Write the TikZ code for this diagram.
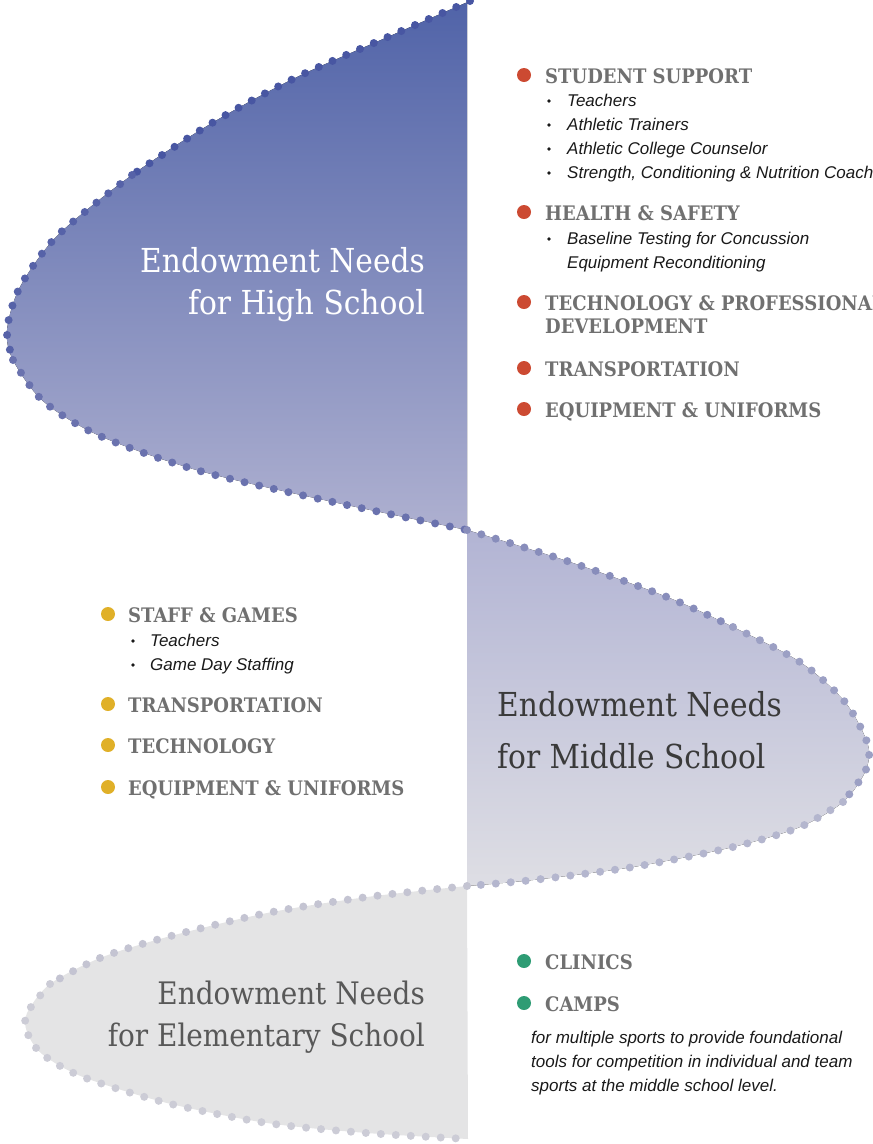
\documentclass[tikz,border=0pt]{standalone}
\usepackage{fontspec}
\newfontfamily\slabfont{DejaVu Serif Condensed}
\newfontfamily\itemfont{Liberation Sans}
\definecolor{hsTop}{RGB}{80,99,168}
\definecolor{hsBot}{RGB}{174,176,208}
\definecolor{msTop}{RGB}{178,180,212}
\definecolor{msBot}{RGB}{222,222,228}
\definecolor{esFill}{RGB}{228,228,229}
\definecolor{dotA}{RGB}{72,86,162}
\definecolor{dotB}{RGB}{86,98,168}
\definecolor{dotC}{RGB}{106,114,174}
\definecolor{dotD}{RGB}{136,141,187}
\definecolor{dotE}{RGB}{156,160,196}
\definecolor{dotF}{RGB}{180,182,206}
\definecolor{dotG}{RGB}{196,196,210}
\definecolor{dotH}{RGB}{204,204,214}
\definecolor{headgrey}{RGB}{112,112,112}
\definecolor{itemblack}{RGB}{25,25,25}
\definecolor{redbul}{RGB}{204,74,50}
\definecolor{yelbul}{RGB}{224,176,40}
\definecolor{grnbul}{RGB}{46,156,116}
\definecolor{midtitle}{RGB}{58,58,58}
\definecolor{eltitle}{RGB}{88,88,88}
\tikzset{
  beadline/.style={draw=#1, line width=8pt, line cap=round, dash pattern=on 0pt off 15pt},
  headtext/.style={anchor=base west, inner sep=0, text=headgrey, font=\slabfont\bfseries\fontsize{20}{24}\selectfont},
  itemtext/.style={anchor=base west, inner sep=0, text=itemblack, font=\itemfont\itshape\fontsize{17}{20}\selectfont},
  bigbul/.style={circle, inner sep=0, minimum size=14pt, fill=#1},
  smallbul/.style={circle, inner sep=0, minimum size=3.6pt, fill=itemblack},
  titletext/.style={inner sep=0, font=\slabfont\fontsize{33}{38}\selectfont},
}
\begin{document}
\begin{tikzpicture}[x=1pt,y=-1pt]
\useasboundingbox (0,0) rectangle (873,1144);
\clip (0,0) rectangle (873,1144);
% ---- fills
\fill[top color=hsTop, bottom color=hsBot]
  (467,0) -- plot[smooth] coordinates {(470,1) (390,36) (295,78) (212,123) (132,175) (58,235) (20,287) (7,330) (13,360) (43,401) (100,436) (200,471) (333,502) (467,530)} -- cycle;
\fill[top color=msTop, bottom color=msBot]
  plot[smooth] coordinates {(467,530) (567,561) (667,597) (733,627) (800,662) (845,702) (868,745) (865,772) (843,802) (800,827) (733,847) (633,867) (533,880) (467,886)} -- cycle;
\fill[esFill]
  plot[smooth] coordinates {(467,886) (367,897) (267,913) (167,937) (100,958) (50,984) (27,1013) (27,1032) (42,1054) (83,1077) (167,1103) (267,1123) (367,1133) (468,1139)} -- cycle;
% ---- beaded outlines
\draw[beadline=dotA] plot[smooth] coordinates {(470,1) (390,36) (295,78) (212,123) (132,175)};
\draw[beadline=dotB] plot[smooth] coordinates {(132,175) (58,235) (20,287) (7,330) (13,360)};
\draw[beadline=dotC] plot[smooth] coordinates {(13,360) (43,401) (100,436) (200,471) (333,502) (467,530)};
\draw[beadline=dotD] plot[smooth] coordinates {(467,530) (567,561) (667,597) (733,627)};
\draw[beadline=dotE] plot[smooth] coordinates {(733,627) (800,662) (845,702) (868,745) (865,772) (843,802)};
\draw[beadline=dotF] plot[smooth] coordinates {(843,802) (800,827) (733,847) (633,867) (533,880) (467,886)};
\draw[beadline=dotG] plot[smooth] coordinates {(467,886) (367,897) (267,913) (167,937) (100,958) (50,984)};
\draw[beadline=dotH] plot[smooth] coordinates {(50,984) (27,1013) (27,1032) (42,1054) (83,1077) (167,1103) (267,1123) (367,1133) (468,1139)};
% ---- titles
\node[titletext, anchor=base east, text=white] (hs1) at (425,272) {Endowment Needs};
\node[titletext, anchor=base east, text=white] (hs2) at (425,314) {for High School};
\node[titletext, anchor=base west, text=midtitle] (ms1) at (497,716) {Endowment Needs};
\node[titletext, anchor=base west, text=midtitle] (ms2) at (497,768) {for Middle School};
\node[titletext, anchor=base east, text=eltitle, font=\slabfont\fontsize{31}{36}\selectfont] (es1) at (425,1004) {Endowment Needs};
\node[titletext, anchor=base east, text=eltitle, font=\slabfont\fontsize{31}{36}\selectfont] (es2) at (425,1046) {for Elementary School};
% ---- high school list
\node[bigbul=redbul] (rb1) at (524,75) {};
\node[headtext] (rh1) at (545,83) {STUDENT SUPPORT};
\node[smallbul] (rs1) at (549,101) {};
\node[itemtext] (ri1) at (567,106) {Teachers};
\node[smallbul] (rs2) at (549,125) {};
\node[itemtext] (ri2) at (567,130) {Athletic Trainers};
\node[smallbul] (rs3) at (549,149) {};
\node[itemtext] (ri3) at (567,154) {Athletic College Counselor};
\node[smallbul] (rs4) at (549,173) {};
\node[itemtext] (ri4) at (567,178) {Strength, Conditioning \& Nutrition Coach};
\node[bigbul=redbul] (rb2) at (524,212) {};
\node[headtext] (rh2) at (545,220) {HEALTH \& SAFETY};
\node[smallbul] (rs5) at (549,239) {};
\node[itemtext] (ri5) at (567,244) {Baseline Testing for Concussion};
\node[itemtext] (ri6) at (567,268) {Equipment Reconditioning};
\node[bigbul=redbul] (rb3) at (524,302) {};
\node[headtext] (rh3) at (545,310) {TECHNOLOGY \& PROFESSIONAL};
\node[headtext] (rh3b) at (545,333) {DEVELOPMENT};
\node[bigbul=redbul] (rb4) at (524,368) {};
\node[headtext] (rh4) at (545,376) {TRANSPORTATION};
\node[bigbul=redbul] (rb5) at (524,409) {};
\node[headtext] (rh5) at (545,417) {EQUIPMENT \& UNIFORMS};
% ---- middle school list
\node[bigbul=yelbul] (yb1) at (108,614) {};
\node[headtext] (yh1) at (128,622) {STAFF \& GAMES};
\node[smallbul] (ys1) at (133,641) {};
\node[itemtext] (yi1) at (150,646) {Teachers};
\node[smallbul] (ys2) at (133,665) {};
\node[itemtext] (yi2) at (150,670) {Game Day Staffing};
\node[bigbul=yelbul] (yb2) at (108,704) {};
\node[headtext] (yh2) at (128,712) {TRANSPORTATION};
\node[bigbul=yelbul] (yb3) at (108,745) {};
\node[headtext] (yh3) at (128,753) {TECHNOLOGY};
\node[bigbul=yelbul] (yb4) at (108,787) {};
\node[headtext] (yh4) at (128,795) {EQUIPMENT \& UNIFORMS};
% ---- elementary list
\node[bigbul=grnbul] (gb1) at (524,961) {};
\node[headtext] (gh1) at (545,969) {CLINICS};
\node[bigbul=grnbul] (gb2) at (524,1003) {};
\node[headtext] (gh2) at (545,1011) {CAMPS};
\node[itemtext] (gp1) at (531,1043) {for multiple sports to provide foundational};
\node[itemtext] (gp2) at (531,1067) {tools for competition in individual and team};
\node[itemtext] (gp3) at (531,1091) {sports at the middle school level.};
\end{tikzpicture}
\end{document}
